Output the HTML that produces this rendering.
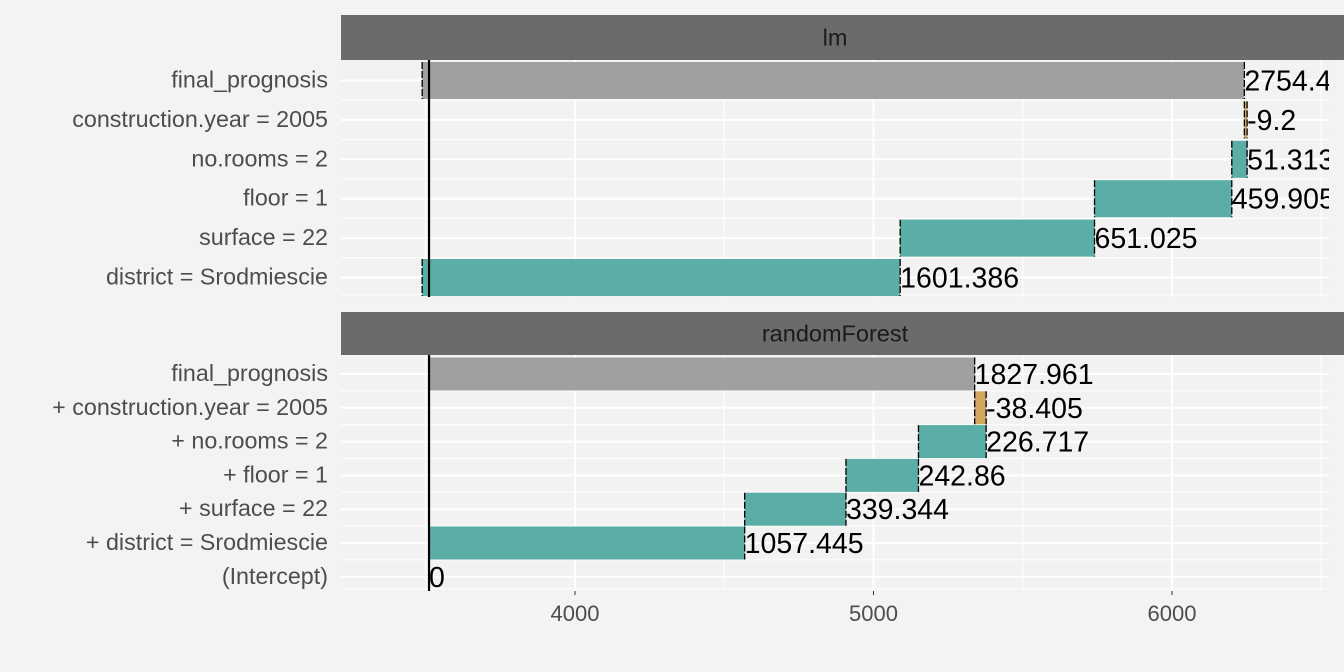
<!DOCTYPE html>
<html><head><meta charset="utf-8"><style>
html,body{margin:0;padding:0;background:#f3f3f3;}
svg{display:block;font-family:"Liberation Sans",Arial,sans-serif;}
</style></head><body>
<svg id="chart" width="1344" height="672" viewBox="0 0 1344 672" xmlns="http://www.w3.org/2000/svg">
<rect x="0" y="0" width="1344" height="672" fill="#f3f3f3"/>
</svg>
<script>
// data
const lmLabels = ["final_prognosis","construction.year = 2005","no.rooms = 2","floor = 1","surface = 22","district = Srodmiescie"];
const lmContrib = [1601.386, 651.025, 459.905, 51.313, -9.2]; // bottom-up: district, surface, floor, rooms, construction
const lmFinalText = "2754.4";
const lmIntercept = 3488;
const rfLabels = ["final_prognosis","+ construction.year = 2005","+ no.rooms = 2","+ floor = 1","+ surface = 22","+ district = Srodmiescie","(Intercept)"];
const rfContrib = [1057.445, 339.344, 242.86, 226.717, -38.405];
const rfFinalText = "1827.961";
const rfIntercept = 3511;
const refLine = 3511;
const xTicks = [4000, 5000, 6000];
const xMinor = [3500, 4500, 5500, 6500];

const NS = "http://www.w3.org/2000/svg";
const svg = document.getElementById('chart');
const PX0 = 341, PX1 = 1329;
function x(v){ return 575 + (v - 4000) * 0.2985; }
function mk(tag, attrs, parent){
  const e = document.createElementNS(NS, tag);
  for (const k in attrs) e.setAttribute(k, attrs[k]);
  (parent || svg).appendChild(e);
  return e;
}
function fmt(v){ return String(Math.round(v*1000)/1000); }

function panel(name, title, stripY, top, bottom, labels, contrib, intercept, hasIntercept, finalText, firstC, step, bh){
  const g = mk('g', {});
  
  
  const strip = mk('rect', {x:PX0, y:stripY, width:1344-PX0, height:top-stripY, fill:'#6b6b6b'}, g);
  
  
  const st = mk('text', {x:(PX0+PX1)/2, y:(stripY+top)/2+8, 'text-anchor':'middle', 'font-size':23.5, fill:'#1a1a1a'}, g);
  st.textContent = title;
  
  
  const bg = mk('rect', {x:PX0, y:top, width:PX1-PX0, height:bottom-top, fill:'#f2f2f2'}, g);
  
  
  const n = labels.length;
  const cy = i => top + firstC + i*step;
  xMinor.forEach(v => { const l = mk('line', {x1:x(v), x2:x(v), y1:top, y2:bottom, stroke:'#fff', 'stroke-width':1}, g);
      });
  for (let i=0;i<n-1;i++){ const y=(cy(i)+cy(i+1))/2; const l=mk('line',{x1:PX0,x2:PX1,y1:y,y2:y,stroke:'#fff','stroke-width':1},g);
      }
  { const y=bottom-2; const l=mk('line',{x1:PX0,x2:PX1,y1:y,y2:y,stroke:'#fff','stroke-width':1},g);
      }
  xTicks.forEach(v => { const l = mk('line', {x1:x(v), x2:x(v), y1:top, y2:bottom, stroke:'#fff', 'stroke-width':2}, g);
      });
  for (let i=0;i<n;i++){ const l=mk('line',{x1:PX0,x2:PX1,y1:cy(i),y2:cy(i),stroke:'#fff','stroke-width':2},g);
      }
  labels.forEach((t,i)=>{ const tx=mk('text',{x:328,y:cy(i)+7,'text-anchor':'end','font-size':23.3,fill:'#4d4d4d'},g);
    tx.textContent=t;   });
  const clip = mk('clipPath', {id:'clip-'+name}, g);
  mk('rect', {x:PX0, y:top, width:PX1-PX0, height:bottom-top}, clip);
  const cg = mk('g', {'clip-path':'url(#clip-'+name+')'}, g);
  let cum = intercept;
  const lastRow = hasIntercept ? n-2 : n-1;
  const bars = [];
  contrib.forEach((c,k)=>{ bars.push({row:lastRow-k, s:cum, e:cum+c, t:fmt(c), col: c>=0?'#5aaea5':'#d3a85e'}); cum+=c; });
  bars.push({row:0, s:intercept, e:cum, t:finalText, col:'#a0a0a0'});
  if (hasIntercept) bars.push({row:n-1, s:intercept, e:intercept, t:'0', col:'#5aaea5'});
  bars.forEach(b=>{
    const x0=Math.min(x(b.s),x(b.e)), x1=Math.max(x(b.s),x(b.e)), y=cy(b.row);
    const r=mk('rect',{x:x0,y:y-bh/2,width:Math.max(x1-x0,0.5),height:bh,fill:b.col},cg);
     
    [x0,x1].forEach(xx=>{ const l=mk('line',{x1:xx,x2:xx,y1:y-bh/2,y2:y+bh/2,stroke:'#000','stroke-width':1.3,'stroke-dasharray':'7,2'},cg);
        });
  });
  const vl = mk('line',{x1:x(refLine),x2:x(refLine),y1:top,y2:bottom,stroke:'#000','stroke-width':2.2},cg);
   
  bars.forEach(b=>{
    const x1=Math.max(x(b.s),x(b.e)), y=cy(b.row);
    const tx=mk('text',{x:x1,y:y+10,'font-size':28.5,fill:'#000'},cg);
    tx.textContent=b.t;  
  });
}
panel('lm','lm',15,60,297,lmLabels,lmContrib,lmIntercept,false,lmFinalText,20.5,39.4,37);
panel('rf','randomForest',312,355,591,rfLabels,rfContrib,rfIntercept,true,rfFinalText,19,33.8,33);
xTicks.forEach(v=>{
  const t=mk('line',{x1:x(v),x2:x(v),y1:591,y2:595,stroke:'#333','stroke-width':1});
   
  const tx=mk('text',{x:x(v),y:621,'text-anchor':'middle','font-size':22,fill:'#4d4d4d'});
  tx.textContent=v;  
});
</script>
</body></html>
